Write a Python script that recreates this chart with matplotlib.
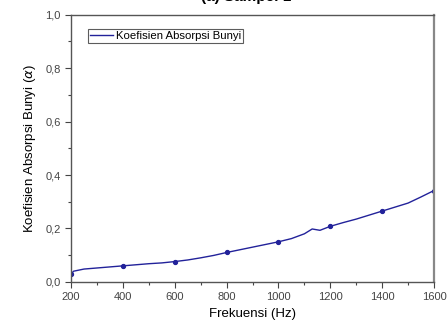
import matplotlib
matplotlib.use('Agg')
import matplotlib.pyplot as plt
from matplotlib.ticker import MultipleLocator, FuncFormatter

# kurva absorpsi
freq = [200, 210, 250, 300, 350, 400, 450, 500, 550, 600, 650, 700, 750, 800,
        850, 900, 950, 1000, 1050, 1100, 1130, 1160, 1200, 1250, 1300, 1350,
        1400, 1450, 1500, 1550, 1600]
alpha = [0.030, 0.040, 0.048, 0.052, 0.056, 0.060, 0.064, 0.068, 0.071, 0.076,
         0.082, 0.090, 0.099, 0.110, 0.120, 0.130, 0.140, 0.150, 0.162, 0.180,
         0.198, 0.193, 0.208, 0.222, 0.235, 0.250, 0.265, 0.280, 0.295, 0.318,
         0.342]
mark_freq = [200, 400, 600, 800, 1000, 1200, 1400, 1600]

plt.rcParams['font.family'] = ['Liberation Sans', 'DejaVu Sans']

fig = plt.figure(figsize=(4.47, 3.27), dpi=100)
ax = fig.add_axes([0.159, 0.138, 0.812, 0.817])

marks = [alpha[freq.index(f)] for f in mark_freq]
ax.plot(freq, alpha, color='#22229a', lw=1.0, label='Koefisien Absorpsi Bunyi')
ax.plot(mark_freq, marks, 'o', color='#22229a', ms=2.8, lw=0)

ax.set_xlim(200, 1600)
ax.set_ylim(0, 1.0)
ax.xaxis.set_major_locator(MultipleLocator(200))
ax.xaxis.set_minor_locator(MultipleLocator(100))
ax.yaxis.set_major_locator(MultipleLocator(0.2))
ax.yaxis.set_minor_locator(MultipleLocator(0.1))
ax.yaxis.set_major_formatter(FuncFormatter(lambda v, p: ('%.1f' % v).replace('.', ',')))
ax.tick_params(labelsize=8, colors='#444444', length=4, width=0.8)
ax.tick_params(which='minor', length=2.5, width=0.8, colors='#444444')
for s in ax.spines.values():
    s.set_color('#555555')
    s.set_linewidth(1.0)
ax.spines['right'].set_color('#888888')
ax.spines['right'].set_linewidth(1.6)

ax.set_xlabel('Frekuensi (Hz)', fontsize=9.5, labelpad=4)
ax.set_ylabel(r'Koefisien Absorpsi Bunyi ($\alpha$)', fontsize=9.5, labelpad=5)
# judul terpotong di tepi atas gambar (seperti pada gambar asli)
fig.text(0.55, 0.9975, '(a) Sampel 1', ha='center', va='baseline',
         fontsize=11, fontweight='bold')

leg = ax.legend(loc='upper left', fontsize=8.2, frameon=True, fancybox=False,
                borderpad=0.15, handlelength=2.0, handletextpad=0.3,
                borderaxespad=0, bbox_to_anchor=(0.047, 0.945))
leg.get_frame().set_edgecolor('#333333')
leg.get_frame().set_linewidth(0.8)

fig.savefig('out.png', dpi=100)
